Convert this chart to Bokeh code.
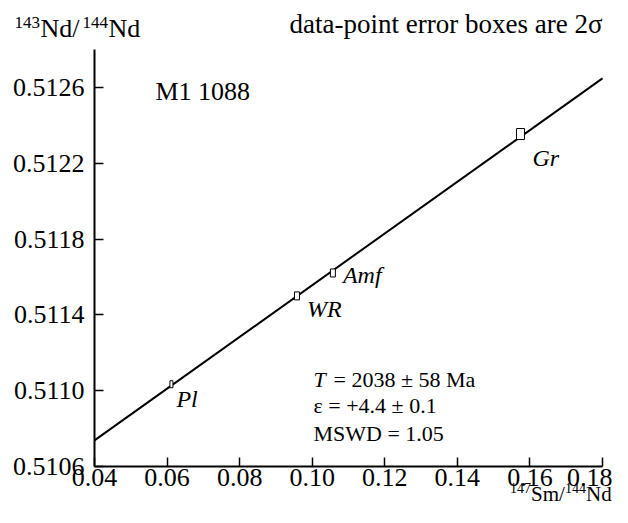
from bokeh.plotting import figure
from bokeh.models import ColumnDataSource, Label, FixedTicker
from bokeh.core.properties import value
from bokeh.embed import file_html
from bokeh.resources import INLINE

# ---- data ----
samples = ["Pl", "WR", "Amf", "Gr"]
sm147_nd144 = [0.0612, 0.0958, 0.1057, 0.1574]
nd143_nd144 = [0.511034, 0.5115, 0.511621, 0.512354]
sm_err_2s = [0.00083, 0.00138, 0.00138, 0.0022]
nd_err_2s = [0.000037, 0.0000423, 0.0000423, 0.0000582]

isochron_x = [0.04, 0.18]
isochron_y = [0.510738, 0.512648]

x_ticks = [0.04, 0.06, 0.08, 0.10, 0.12, 0.14, 0.16, 0.18]
x_tick_labels = ["0.04", "0.06", "0.08", "0.10", "0.12", "0.14", "0.16", "0.18"]
y_ticks = [0.5106, 0.5110, 0.5114, 0.5118, 0.5122, 0.5126]
y_tick_labels = ["0.5106", "0.5110", "0.5114", "0.5118", "0.5122", "0.5126"]
x_axis_span = (0.04, 0.18)
y_axis_span = (0.5106, 0.5128)

sample_name = "M1 1088"
note_text = "data-point error boxes are 2σ"
stats_lines = ["= 2038 ± 58 Ma", "ε = +4.4 ± 0.1", "MSWD = 1.05"]

FONT = "Liberation Serif"

# ---- layout geometry (pixels) ----
W, H = 612, 507
AX_LEFT, AX_RIGHT = 94, 602      # px of x-axis ends
AX_BOTTOM, AX_TOP = 466, 49      # px (from top) of y-axis ends
dx = (x_axis_span[1] - x_axis_span[0]) / (AX_RIGHT - AX_LEFT)
dy = (y_axis_span[1] - y_axis_span[0]) / (AX_BOTTOM - AX_TOP)
x_range = (x_axis_span[0] - AX_LEFT * dx, x_axis_span[1] + (W - AX_RIGHT) * dx)
y_range = (y_axis_span[0] - (H - AX_BOTTOM) * dy, y_axis_span[1] + AX_TOP * dy)

p = figure(width=W, height=H, x_range=x_range, y_range=y_range,
           output_backend="svg", toolbar_location=None,
           min_border_left=0, min_border_right=0, min_border_top=0, min_border_bottom=0)
p.outline_line_color = None
p.xgrid.visible = False
p.ygrid.visible = False
p.background_fill_color = "white"
p.border_fill_color = "white"

for ax, ticks, labels, span in ((p.xaxis[0], x_ticks, x_tick_labels, x_axis_span),
                                (p.yaxis[0], y_ticks, y_tick_labels, y_axis_span)):
    ax.ticker = FixedTicker(ticks=ticks)
    ax.major_label_overrides = dict(zip(ticks, labels))
    ax.bounds = span
    ax.major_tick_in = 9
    ax.major_tick_out = 0
    ax.minor_tick_line_color = None
    ax.axis_line_width = 2
    ax.major_tick_line_width = 1.5
    ax.axis_line_color = "black"
    ax.major_tick_line_color = "black"
    ax.major_label_text_font = FONT
    ax.major_label_text_font_size = "26px"
    ax.major_label_text_color = "black"
p.xaxis.fixed_location = y_axis_span[0]
p.yaxis.fixed_location = x_axis_span[0]
p.yaxis.major_label_standoff = 10
p.xaxis.major_label_standoff = 2

# isochron
p.line(isochron_x, isochron_y, line_color="black", line_width=2)

src = ColumnDataSource(dict(x=sm147_nd144, y=nd143_nd144, w=sm_err_2s, h=nd_err_2s, name=samples,
                            dx=[5, 10, 10, 12], dy=[15, 13, 2, 24]))
p.rect(x="x", y="y", width="w", height="h", source=src, fill_color="white",
       line_color="black", line_width=1)
p.text(x="x", y="y", text="name", source=src, x_offset="dx", y_offset="dy",
       text_font=value(FONT), text_font_style="italic", text_font_size="24px",
       text_baseline="alphabetic", text_align="left", text_color="black")

def lab(x, baseline_from_top, text, size=26, style="normal", align="left"):
    y_from_top = baseline_from_top - 0.36 * size   # renderer places baseline lower
    p.add_layout(Label(x=x, y=H - y_from_top, x_units="screen", y_units="screen", text=text,
                       text_font=FONT, text_font_size=f"{size}px", text_font_style=style,
                       text_align=align, text_baseline="alphabetic", text_color="black"))

# y-axis title 143Nd/144Nd
lab(14, 28, "143", 17)
lab(40, 37, "Nd/", 26)
lab(82, 28, "144", 17)
lab(108, 37, "Nd", 26)

# x-axis title 147Sm/144Nd
lab(509.5, 493, "147", 14)
lab(530.5, 501, "Sm/", 21)
lab(564.5, 493, "144", 14)
lab(585.5, 501, "Nd", 21)

lab(155, 100, sample_name, 26)
lab(602, 33, note_text, 27, align="right")

lab(313, 387, "T", 22, style="italic")
lab(333, 387, stats_lines[0], 22)
lab(313, 413, stats_lines[1], 22)
lab(313, 441, stats_lines[2], 22)

open("out.html", "w").write(file_html(p, INLINE))
